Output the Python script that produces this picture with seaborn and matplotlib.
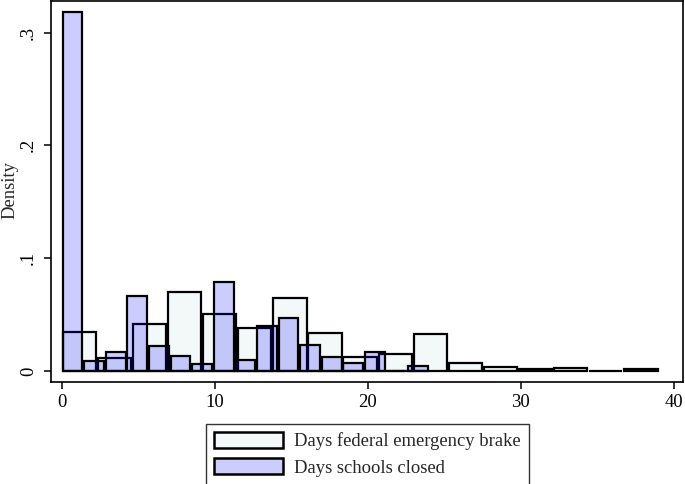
import numpy as np
import pandas as pd
import matplotlib
matplotlib.use("Agg")
import matplotlib.pyplot as plt
from matplotlib.patches import Patch
import seaborn as sns

# densities, 17 equal bins per series
brake_range = (0, 39)
brake_density = [0.035, 0.0113, 0.042, 0.070, 0.051, 0.038, 0.065, 0.034, 0.0127,
                 0.0153, 0.033, 0.0074, 0.0038, 0.0015, 0.003, 0.0005, 0.0015]
schools_range = (0, 24)
schools_density = [0.318, 0.0093, 0.017, 0.067, 0.022, 0.013, 0.006, 0.079, 0.0098,
                   0.040, 0.0467, 0.0236, 0.0127, 0.0074, 0.017, 0.0, 0.0047]
series_labels = ["Days federal emergency brake", "Days schools closed"]
x_ticks = [0, 10, 20, 30, 40]
y_ticks = [0, 0.1, 0.2, 0.3]
y_ticklabels = ["0", ".1", ".2", ".3"]

sns.set_style("white")
plt.rcParams['font.family'] = ['Liberation Serif', 'DejaVu Serif']
fs = 13.4

brake_fill = "#f3f8f8"
schools_fill = (0.0, 0.0, 1.0, 0.2)


def hist_frame(rng, dens):
    edges = np.linspace(rng[0], rng[1], len(dens) + 1)
    centers = (edges[:-1] + edges[1:]) / 2
    return pd.DataFrame({'x': centers, 'w': dens}), [float(e) for e in edges]


brake_df, brake_edges = hist_frame(brake_range, brake_density)
schools_df, schools_edges = hist_frame(schools_range, schools_density)

fig = plt.figure(figsize=(6.85, 4.84), dpi=100)
ax = fig.add_axes([0.074, 0.211, 0.923, 0.787])

sns.histplot(data=brake_df, x='x', weights='w', bins=brake_edges, stat='count',
             shrink=0.95, facecolor=brake_fill, edgecolor='black', linewidth=1.6,
             ax=ax, zorder=2)
sns.histplot(data=schools_df, x='x', weights='w', bins=schools_edges, stat='count',
             shrink=0.92, facecolor=schools_fill, edgecolor='black', linewidth=1.6,
             ax=ax, zorder=3)

ax.set_xlim(-0.72, 40.6)
ax.set_ylim(-0.0095, 0.328)
ax.set_xticks(x_ticks)
ax.set_xticklabels([str(t) for t in x_ticks])
ax.set_yticks(y_ticks)
ax.set_yticklabels(y_ticklabels, rotation=90, va='center')
ax.tick_params(axis='both', direction='out', length=5, width=1.1, labelsize=fs,
               bottom=True, left=True, colors='black')
ax.tick_params(axis='y', pad=5)
ax.tick_params(axis='x', pad=4)
ax.set_xlabel("")
ax.set_ylabel("")
fig.text(10 / 685, 1 - 190 / 484, "Density", rotation=90, ha='center', va='center',
         fontsize=fs)
for s in ax.spines.values():
    s.set_visible(True)
    s.set_color('black')
    s.set_linewidth(1.2)

handles = [Patch(facecolor=brake_fill, edgecolor='black', linewidth=1.8),
           Patch(facecolor=schools_fill, edgecolor='black', linewidth=1.8)]
leg = fig.legend(handles, series_labels, loc='upper center', bbox_to_anchor=(0.5365, 1 - 424 / 484),
                 ncol=1, fontsize=fs, frameon=True, fancybox=False, handlelength=3.7,
                 handleheight=0.92, handletextpad=0.6, labelspacing=0.45,
                 borderpad=0.42, borderaxespad=0)
leg.get_frame().set_edgecolor('black')
leg.get_frame().set_linewidth(1.0)

fig.savefig("out.png", dpi=100)
